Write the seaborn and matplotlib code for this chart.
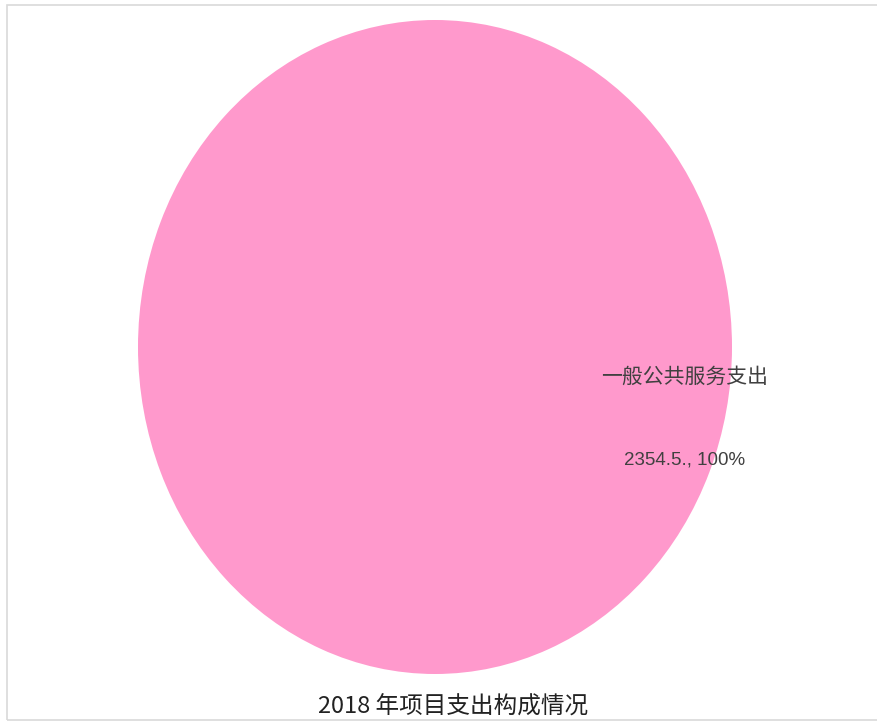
import matplotlib
matplotlib.use("Agg")
import matplotlib.pyplot as plt
import matplotlib.patches as mpatches
import seaborn as sns

# data
categories = ['一般公共服务支出']
values = [2354.5]
value_labels = ['2354.5., 100%']
title = '2018 年项目支出构成情况'

sns.set_theme(style='white')
plt.rcParams['font.family'] = ['Noto Sans CJK SC', 'DejaVu Sans']

colors = ['#FF99CC']

fig = plt.figure(figsize=(8.78, 7.22), dpi=100)
ax = fig.add_axes([138 / 878, 48 / 722, 594 / 878, 654 / 722])

wedges, _ = ax.pie(values, colors=colors, startangle=90, counterclock=False,
                   radius=1, wedgeprops=dict(linewidth=0))
ax.set_aspect('auto')
ax.set_xlim(-1, 1)
ax.set_ylim(-1, 1)
ax.axis('off')

# labels
ax.text(0.84, -0.09, categories[0], ha='center', va='center',
        fontsize=15, color='#404040')
ax.text(0.84, -0.346, value_labels[0], ha='center', va='center',
        fontsize=13.5, color='#404040',
        family=['Liberation Sans Narrow', 'Liberation Sans', 'DejaVu Sans'])

fig.text(0.516, 0.02, title, ha='center', va='center', fontsize=17, color='#222222')

# outer frame
border = mpatches.Rectangle((7 / 878, 2 / 722), 1.0, 715 / 722, transform=fig.transFigure,
                            fill=False, edgecolor='#d9d9d9', linewidth=1.2)
fig.patches.append(border)

fig.savefig('out.png', dpi=100)
